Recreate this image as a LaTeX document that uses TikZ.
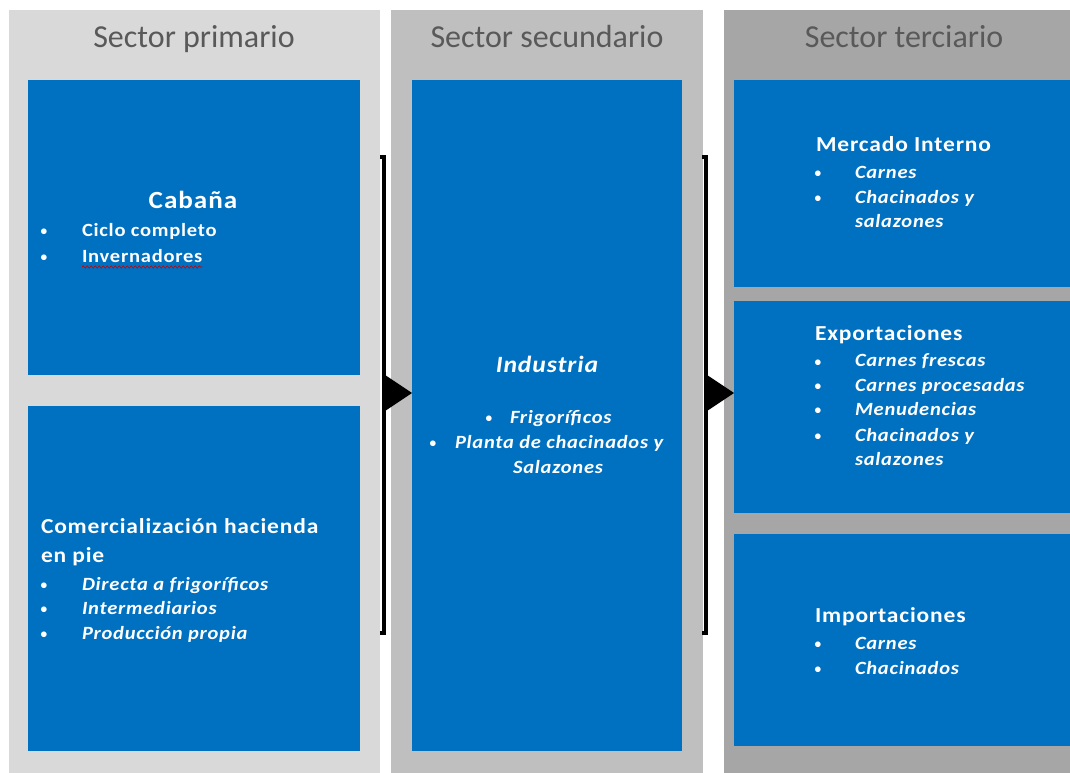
\documentclass[tikz,border=0pt]{standalone}
\usepackage{fontspec}
\setmainfont{Carlito}
\newfontfamily\boxfont[FakeStretch=1.1,LetterSpace=4]{Carlito}
\usepackage{tikz}
\usetikzlibrary{calc, decorations.pathmorphing}
\definecolor{boxBlue}{HTML}{0070C0}
\definecolor{colA}{HTML}{D9D9D9}
\definecolor{colB}{HTML}{BFBFBF}
\definecolor{colC}{HTML}{A6A6A6}
\definecolor{headGray}{HTML}{595959}
\xdef\LWB{2.6pt}
\tikzset{
  head/.style={font=\fontsize{24}{28}\selectfont, text=headGray, anchor=base},
  bigtitle/.style={font=\boxfont\bfseries\fontsize{18.5}{22}\selectfont, text=white, anchor=base},
  title/.style={font=\boxfont\bfseries\fontsize{16}{19}\selectfont, text=white, anchor=base west},
  plainitem/.style={font=\boxfont\bfseries\fontsize{14}{17}\selectfont, text=white, anchor=base west},
  item/.style={font=\boxfont\bfseries\itshape\fontsize{14}{17}\selectfont, text=white, anchor=base west},
  dot/.style={font=\bfseries\fontsize{10}{12}\selectfont, text=white, anchor=base},
  bracket/.style={line width=\LWB, line join=miter},
}

\begin{document}
\begin{tikzpicture}[inner sep=0,outer sep=0,x=0.75pt,y=-0.75pt]
\useasboundingbox (0,0) rectangle (1070,773);
% columns
\fill[colA] (9,10) rectangle (380,773);
\fill[colB] (391,10) rectangle (703,773);
\fill[colC] (724,10) rectangle (1070,773);
\node[head] (hA) at (194,48) {Sector primario};
\node[head] (hB) at (547,48) {Sector secundario};
\node[head] (hC) at (904,48) {Sector terciario};
% blue boxes
\fill[boxBlue] (28,80) rectangle (360,375);
\fill[boxBlue] (28,406) rectangle (360,751);
\fill[boxBlue] (412,80) rectangle (682,751);
\fill[boxBlue] (734,80) rectangle (1070,287);
\fill[boxBlue] (734,301) rectangle (1070,513);
\fill[boxBlue] (734,534) rectangle (1070,746);
% Cabana
\node[bigtitle] (cab) at (193,209) {Cabaña};
\node[dot] (cab1d) at (44,236) {•};
\node[plainitem] (cab1) at (82,237) {Ciclo completo};
\node[dot] (cab2d) at (44,262) {•};
\node[plainitem] (cab2) at (82,263) {Invernadores};
\draw[red!80!black, line width=0.5pt, decorate,
  decoration={snake, amplitude=0.8pt, segment length=3pt}] ($(cab2.base west)+(0,4)$) -- ($(cab2.base east)+(0,4)$);
% Comercializacion
\node[title] (com) at (41,533) {Comercialización hacienda};
\node[title] (com0) at (41,562) {en pie};
\node[dot] (com1d) at (44,589) {•};
\node[item] (com1) at (82,590) {Directa a frigoríficos};
\node[dot] (com2d) at (44,613) {•};
\node[item] (com2) at (82,614) {Intermediarios};
\node[dot] (com3d) at (44,638) {•};
\node[item] (com3) at (82,639) {Producción propia};
% Industria
\node[font=\boxfont\bfseries\itshape\fontsize{17.5}{21}\selectfont, text=white, anchor=base] (ind) at (547,373) {Industria};
\node[dot] (ind1d) at (489,422) {•};
\node[item] (ind1) at (510,423) {Frigoríficos};
\node[dot] (ind2d) at (433,447) {•};
\node[item] (ind2) at (455,448) {Planta de chacinados y};
\node[item] (ind3) at (513,473) {Salazones};
% Mercado interno
\node[title] (mer) at (816,152) {Mercado Interno};
\node[dot] (mer1d) at (818,178) {•};
\node[item] (mer1) at (855,179) {Carnes};
\node[dot] (mer2d) at (818,203) {•};
\node[item] (mer2) at (855,204) {Chacinados y};
\node[item] (mer3) at (855,228) {salazones};
% Exportaciones
\node[title] (exp) at (815,340) {Exportaciones};
\node[dot] (exp1d) at (818,366) {•};
\node[item] (exp1) at (855,367) {Carnes frescas};
\node[dot] (exp2d) at (818,390) {•};
\node[item] (exp2) at (855,391) {Carnes procesadas};
\node[dot] (exp3d) at (818,414) {•};
\node[item] (exp3) at (855,415) {Menudencias};
\node[dot] (exp4d) at (818,440) {•};
\node[item] (exp4) at (855,441) {Chacinados y};
\node[item] (exp5) at (855,465) {salazones};
% Importaciones
\node[title] (imp) at (815,622) {Importaciones};
\node[dot] (imp1d) at (818,648) {•};
\node[item] (imp1) at (855,649) {Carnes};
\node[dot] (imp2d) at (818,673) {•};
\node[item] (imp2) at (855,674) {Chacinados};
% brackets
\coordinate (brAt) at (384,157);
\coordinate (brAb) at (384,633);
\coordinate (brBt) at (706,157);
\coordinate (brBb) at (706,633);
\draw[bracket] ($(brAt)+(-4,0)$) -- (brAt) -- (brAb) -- ($(brAb)+(-4,0)$);
\draw[bracket] ($(brBt)+(-4,0)$) -- (brBt) -- (brBb) -- ($(brBb)+(-4,0)$);
\fill (385,375) -- (412,393) -- (385,411) -- cycle;
\fill (707,375) -- (734,393) -- (707,411) -- cycle;
\end{tikzpicture}
\end{document}
